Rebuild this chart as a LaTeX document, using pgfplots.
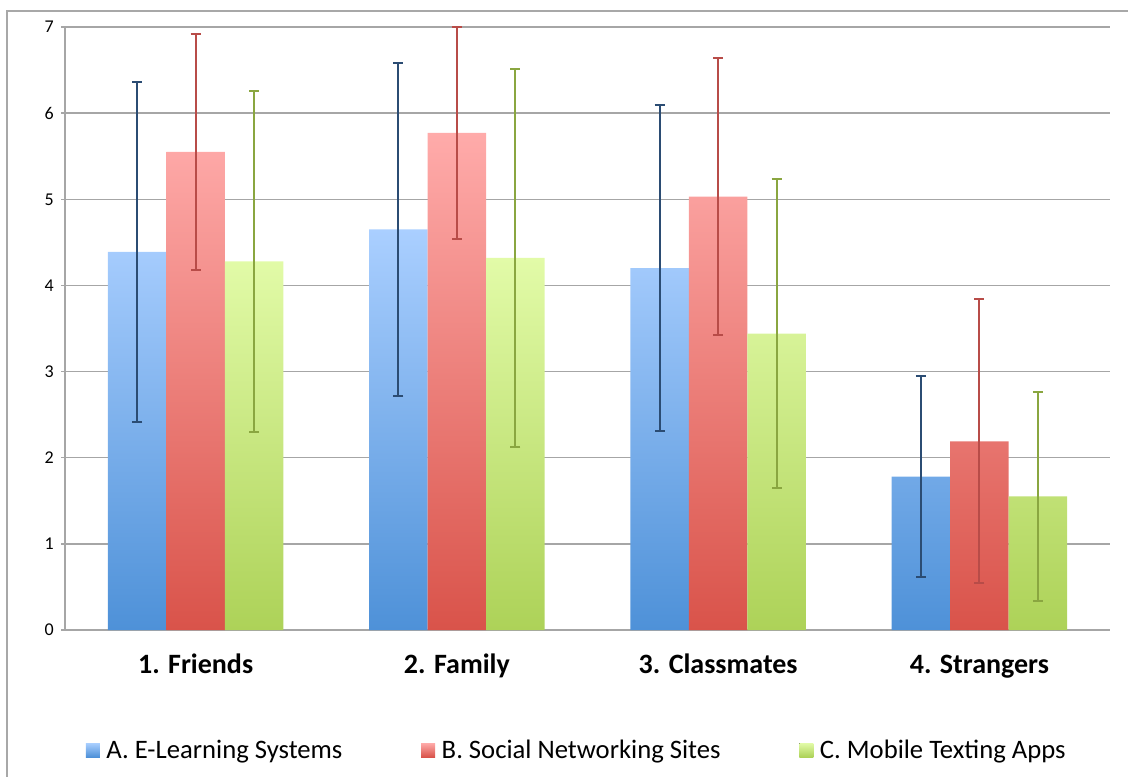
\documentclass[border=0pt]{standalone}
\usepackage{fontspec}
\setmainfont{Carlito}
\usepackage{pgfplots}
\usepackage{pgfplotstable}
\pgfplotsset{compat=1.18}
\definecolor{bluetop}{HTML}{AACFFF}
\definecolor{bluebot}{HTML}{4E91D8}
\definecolor{redtop}{HTML}{FFABAA}
\definecolor{redbot}{HTML}{D9534A}
\definecolor{greentop}{HTML}{E2FBA8}
\definecolor{greenbot}{HTML}{ADD258}
\definecolor{errblue}{HTML}{2B4C73}
\definecolor{errred}{HTML}{B84C48}
\definecolor{errgreen}{HTML}{8AA640}
\definecolor{gridgray}{HTML}{A6A6A6}
\definecolor{bordergray}{HTML}{A8A8A8}

\pgfplotstableread{
x a aerr b berr c cerr
0 4.39 1.97 5.55 1.37 4.28 1.98
1 4.65 1.93 5.77 1.23 4.32 2.19
2 4.20 1.89 5.03 1.61 3.44 1.79
3 1.78 1.17 2.19 1.65 1.55 1.21
}\datatable

\begin{document}
\begin{tikzpicture}
\useasboundingbox (0pt,0pt) rectangle (846pt,582pt);
\draw[color=bordergray, line width=1.1pt] (5.25pt,-15pt) -- (5.25pt,573.75pt) -- (862pt,573.75pt);
\begin{axis}[
  at={(48.75pt,109.5pt)}, anchor=south west,
  scale only axis, width=783.75pt, height=452.25pt,
  xmin=-0.5, xmax=3.5, ymin=0, ymax=7,
  ybar=0pt, bar width=0.224,
  axis x line*=bottom, axis y line*=left,
  axis line style={-, draw=gridgray, line width=1.1pt},
  xtick={0,1,2,3},
  xticklabels={1. Friends, 2. Family, 3. Classmates, 4. Strangers},
  x tick label style={font=\bfseries\fontsize{21}{25}\selectfont, text height=15pt, text depth=5pt, yshift=-11pt},
  xtick style={draw=none},
  extra x ticks={-0.5,0.5,1.5,2.5,3.5},
  extra x tick labels={},
  extra x tick style={tick align=outside, major tick length=5.25pt, tick style={draw=gridgray, line width=1.1pt}},
  ytick={0,1,2,3,4,5,6,7},
  ymajorgrids,
  grid style={draw=gridgray, line width=1.1pt},
  y tick label style={font=\fontsize{13.5}{15}\selectfont, xshift=-2pt},
  ytick align=outside, major tick length=3pt,
  ytick style={draw=gridgray, line width=1.1pt},
  /pgf/number format/assume math mode=true,
  legend columns=3,
  legend style={draw=none, fill=none, at={(0.49,-0.199)}, anchor=center,
    font=\fontsize{20}{24}\selectfont,
    /tikz/every odd column/.append style={column sep=3pt},
    /tikz/every even column/.append style={column sep=57pt}},
  legend cell align=left,
  legend image code/.code={\fill[#1] (0pt,-5.25pt) rectangle (10.5pt,5.25pt);},
  clip=false,
]
\addplot[draw=none, bar shift=-0.224, top color=bluetop, bottom color=bluebot] table[x=x, y=a] {\datatable};
\addlegendentry{A. E-Learning Systems}
\addplot[draw=none, bar shift=0, top color=redtop, bottom color=redbot] table[x=x, y=b] {\datatable};
\addlegendentry{B. Social Networking Sites}
\addplot[draw=none, bar shift=0.224, top color=greentop, bottom color=greenbot] table[x=x, y=c] {\datatable};
\addlegendentry{C. Mobile Texting Apps}

\addplot[draw=none, fill=none, forget plot, bar shift=-0.224,
  error bars/.cd, y dir=both, y explicit,
  error bar style={draw=errblue, line width=1.5pt},
  error mark options={rotate=90, mark size=3.75pt, draw=errblue, line width=1.5pt}]
  table[x=x, y=a, y error=aerr] {\datatable};
\addplot[draw=none, fill=none, forget plot, bar shift=0,
  error bars/.cd, y dir=both, y explicit,
  error bar style={draw=errred, line width=1.5pt},
  error mark options={rotate=90, mark size=3.75pt, draw=errred, line width=1.5pt}]
  table[x=x, y=b, y error=berr] {\datatable};
\addplot[draw=none, fill=none, forget plot, bar shift=0.224,
  error bars/.cd, y dir=both, y explicit,
  error bar style={draw=errgreen, line width=1.5pt},
  error mark options={rotate=90, mark size=3.75pt, draw=errgreen, line width=1.5pt}]
  table[x=x, y=c, y error=cerr] {\datatable};
\end{axis}
\end{tikzpicture}
\end{document}
